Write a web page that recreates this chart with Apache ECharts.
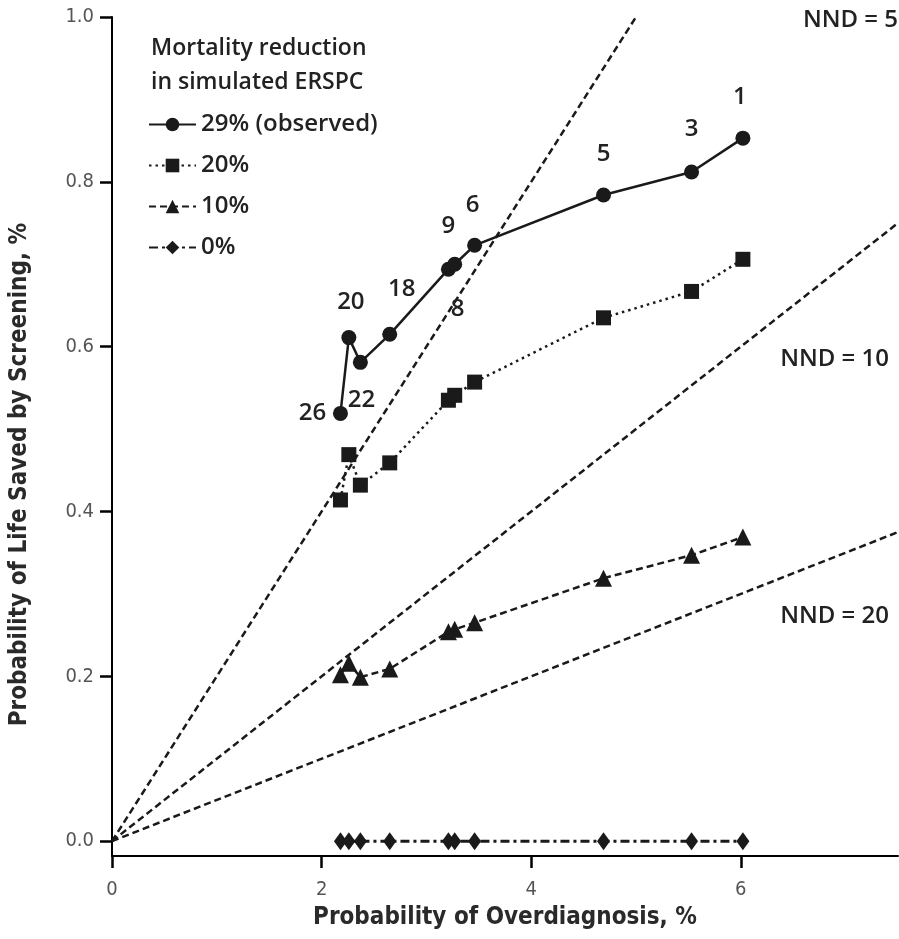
<!DOCTYPE html>
<html><head><meta charset="utf-8">
<script src="https://cdn.jsdelivr.net/npm/echarts@6/dist/echarts.min.js"></script>
<style>html,body{margin:0;padding:0;background:#fff}#c{width:899px;height:939px}</style>
</head><body><div id="c"></div>
<script>
// ---- data ----
const overdiagnosis = [2.18, 2.26, 2.37, 2.65, 3.21, 3.27, 3.46, 4.69, 5.53, 6.02];
const saved29 = [0.519, 0.611, 0.581, 0.615, 0.694, 0.700, 0.723, 0.784, 0.812, 0.853];
const saved20 = [0.414, 0.469, 0.432, 0.459, 0.535, 0.541, 0.557, 0.635, 0.667, 0.706];
const saved10 = [0.202, 0.216, 0.199, 0.209, 0.254, 0.257, 0.265, 0.319, 0.347, 0.369];
const saved0  = [0, 0, 0, 0, 0, 0, 0, 0, 0, 0];
const pointLabels = ['26', '20', '22', '18', '9', '8', '6', '5', '3', '1'];
const seriesNames = ['29% (observed)', '20%', '10%', '0%'];
const nndValues = [5, 10, 20];
const nndLabels = ['NND = 5', 'NND = 10', 'NND = 20'];
const xTicks = [0, 2, 4, 6];
const yTicks = [0, 0.2, 0.4, 0.6, 0.8, 1.0];
const xMax = 7.5, yMax = 1.0, yMin = -0.018;

// ---- layout / style (not data) ----
const labelOffsets = [[-28, 0], [2, -35], [1, 38], [12, -45], [0, -43], [3, 45], [-2, -40], [0, -41], [0, -43], [-3, -41]];
const TXT = '"Open Sans", "DejaVu Sans", sans-serif';
const COND = '"DejaVu Sans Condensed", "Liberation Sans Narrow", sans-serif';
const INK = '#1a1a1a';

const chart = echarts.init(document.getElementById('c'));

function pts(ys) { return overdiagnosis.map((x, i) => [x, ys[i]]); }

const nndSeries = nndValues.map((n, k) => {
  const xEnd = Math.min(xMax, n * yMax);
  return {
    type: 'line', name: nndLabels[k], silent: true, z: 1,
    data: [[0, 0], [xEnd, xEnd / n]],
    symbol: 'none',
    lineStyle: {color: INK, width: 2.5, type: [7, 4]}
  };
});

const s29 = {
  type: 'line', name: seriesNames[0], z: 5,
  data: pts(saved29).map((p, i) => ({
    value: p,
    label: {show: true, formatter: pointLabels[i], position: 'inside', offset: labelOffsets[i]}
  })),
  symbol: 'circle', symbolSize: 15,
  itemStyle: {color: INK},
  lineStyle: {color: INK, width: 2.5, type: 'solid'},
  label: {color: '#222', fontFamily: TXT, fontSize: 24, fontWeight: 600}
};
const s20 = {
  type: 'line', name: seriesNames[1], z: 4, data: pts(saved20),
  symbol: 'rect', symbolSize: 15,
  itemStyle: {color: INK},
  lineStyle: {color: INK, width: 2.5, type: [2.5, 4]}
};
const s10 = {
  type: 'line', name: seriesNames[2], z: 4, data: pts(saved10),
  symbol: 'triangle', symbolSize: 17,
  itemStyle: {color: INK},
  lineStyle: {color: INK, width: 2.5, type: [7, 4]}
};
const s0 = {
  type: 'line', name: seriesNames[3], z: 4, data: pts(saved0),
  symbol: 'diamond', symbolSize: [13, 18],
  itemStyle: {color: INK},
  lineStyle: {color: INK, width: 3, type: [9, 4, 3, 4]}
};

const option = {
  animation: false,
  grid: {left: 112, right: 1, top: 17, bottom: 83},
  xAxis: {
    type: 'value', min: 0, max: xMax,
    name: 'Probability of Overdiagnosis, %', nameLocation: 'middle', nameGap: 50,
    nameTextStyle: {fontFamily: COND, fontSize: 24, fontWeight: 'bold', color: '#2a2a2a'},
    axisLine: {show: true, onZero: false, lineStyle: {color: '#000', width: 2}},
    axisTick: {show: true, length: 12, lineStyle: {color: '#000', width: 2.5}, customValues: xTicks},
    axisLabel: {customValues: xTicks, margin: 24, fontFamily: COND, fontSize: 20, color: '#555'},
    splitLine: {show: false}
  },
  yAxis: {
    type: 'value', min: yMin, max: yMax,
    name: 'Probability of Life Saved by Screening, %', nameLocation: 'middle', nameGap: 80,
    nameTextStyle: {fontFamily: COND, fontSize: 24, fontWeight: 'bold', color: '#2a2a2a', padding: [0, 76, 0, 0]},
    axisLine: {show: true, onZero: false, lineStyle: {color: '#000', width: 2}},
    axisTick: {show: true, length: 12, lineStyle: {color: '#000', width: 2.5}, customValues: yTicks},
    axisLabel: {customValues: yTicks, margin: 18, fontFamily: COND, fontSize: 20, color: '#555',
      formatter: v => v.toFixed(1)},
    splitLine: {show: false}
  },
  legend: {
    data: seriesNames,
    orient: 'vertical', left: 143, top: 107,
    itemWidth: 47, itemHeight: 17, itemGap: 16,
    textStyle: {fontFamily: TXT, fontSize: 24, fontWeight: 600, color: '#222', lineHeight: 25},
    selectedMode: false
  },
  graphic: [
    {type: 'text', left: 151, top: 31, style: {text: 'Mortality reduction\nin simulated ERSPC',
      font: '600 23px ' + TXT, fill: '#222', lineHeight: 34}},
    {type: 'text', right: 1, top: 8, style: {text: nndLabels[0], font: '600 24px ' + TXT, fill: '#222'}},
    {type: 'text', right: 10, top: 347, style: {text: nndLabels[1], font: '600 24px ' + TXT, fill: '#222'}},
    {type: 'text', right: 10, top: 604, style: {text: nndLabels[2], font: '600 24px ' + TXT, fill: '#222'}}
  ],
  series: [...nndSeries, s0, s10, s20, s29]
};
chart.setOption(option);
</script>
</body></html>
